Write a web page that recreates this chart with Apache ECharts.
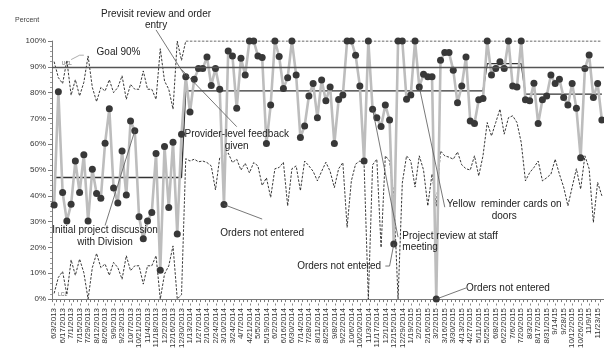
<!DOCTYPE html>
<html>
<head>
<meta charset="utf-8">
<script src="https://cdn.jsdelivr.net/npm/echarts@6/dist/echarts.min.js"></script>
<style>
  html, body { margin: 0; padding: 0; background: #fff; }
  #chart { width: 604px; height: 351px; }
</style>
</head>
<body>
<div id="chart"></div>
<script>
// Weekly chart of orders entered before the visit (percent), with control limits.
const weeks = [
  '6/3/2013','6/10/2013','6/17/2013','6/24/2013','7/1/2013','7/8/2013','7/15/2013','7/22/2013','7/29/2013','8/5/2013',
  '8/12/2013','8/19/2013','8/26/2013','9/2/2013','9/9/2013','9/16/2013','9/23/2013','9/30/2013','10/7/2013','10/14/2013',
  '10/21/2013','10/28/2013','11/4/2013','11/11/2013','11/18/2013','11/25/2013','12/2/2013','12/9/2013','12/16/2013','12/23/2013',
  '12/30/2013','1/6/2014','1/13/2014','1/20/2014','1/27/2014','2/3/2014','2/10/2014','2/17/2014','2/24/2014','3/3/2014',
  '3/10/2014','3/17/2014','3/24/2014','3/31/2014','4/7/2014','4/14/2014','4/21/2014','4/28/2014','5/5/2014','5/12/2014',
  '5/19/2014','5/26/2014','6/2/2014','6/9/2014','6/16/2014','6/23/2014','6/30/2014','7/7/2014','7/14/2014','7/21/2014',
  '7/28/2014','8/4/2014','8/11/2014','8/18/2014','8/25/2014','9/1/2014','9/8/2014','9/15/2014','9/22/2014','9/29/2014',
  '10/6/2014','10/13/2014','10/20/2014','10/27/2014','11/3/2014','11/10/2014','11/17/2014','11/24/2014','12/1/2014','12/8/2014',
  '12/15/2014','12/22/2014','12/29/2014','1/12/2015','1/19/2015','1/26/2015','2/2/2015','2/9/2015','2/16/2015','2/23/2015',
  '3/2/2015','3/9/2015','3/16/2015','3/23/2015','3/30/2015','4/6/2015','4/13/2015','4/20/2015','4/27/2015','5/4/2015',
  '5/11/2015','5/18/2015','5/25/2015','6/1/2015','6/8/2015','6/15/2015','6/22/2015','6/29/2015','7/6/2015','7/13/2015',
  '7/20/2015','7/27/2015','8/3/2015','8/10/2015','8/17/2015','8/24/2015','8/31/2015','9/7/2015','9/14/15','9/21/15',
  '9/28/15','10/5/2015','10/12/2015','10/19/2015','10/26/2015','11/2/15','11/9/15','11/16/15','11/23/15','11/30/15'
];

const percentEntered = [
  36.5, 80.3, 41.3, 30.3, 36.7, 53.5, 41.3, 55.9, 30.3, 50.3,
  40.9, 39.1, 60.4, 73.7, 43.0, 37.2, 57.4, 40.3, 69.0, 65.2,
  31.9, 23.4, 30.3, 33.5, 56.4, 11.2, 59.1, 35.5, 60.8, 25.2,
  63.9, 86.1, 72.5, 85.2, 89.3, 89.3, 93.8, 82.8, 89.3, 81.3,
  36.6, 96.1, 94.2, 73.9, 93.3, 86.8, 100, 100, 94.2, 93.6,
  60.3, 75.2, 100, 94.0, 81.6, 85.8, 100, 86.8, 62.6, 67.1,
  78.7, 83.5, 70.3, 84.9, 76.8, 82.2, 60.3, 77.3, 79.1, 100,
  100, 94.5, 82.6, 53.5, 100, 73.6, 70.3, 66.9, 75.2, 69.4,
  21.3, 100, 100, 77.4, 79.1, 100, 82.2, 87.1, 86.1, 86.1,
  0, 92.5, 95.5, 95.5, 88.7, 76.1, 82.6, 93.8, 69.0, 68.0,
  77.2, 77.7, 100, 86.8, 89.3, 92.0, 89.3, 100, 82.6, 82.2,
  100, 77.2, 76.8, 83.6, 68.0, 77.2, 78.7, 86.8, 83.5, 85.2,
  78.1, 75.2, 83.5, 73.9, 54.8, 89.3, 94.6, 78.1, 83.5, 69.4
];

const centerLine = [
  47.1, 47.1, 47.1, 47.1, 47.1, 47.1, 47.1, 47.1, 47.1, 47.1,
  47.1, 47.1, 47.1, 47.1, 47.1, 47.1, 47.1, 47.1, 47.1, 47.1,
  47.1, 47.1, 47.1, 47.1, 47.1, 47.1, 47.1, 47.1, 47.1, 47.1,
  47.1, 80.7, 80.7, 80.7, 80.7, 80.7, 80.7, 80.7, 80.7, 80.7,
  80.7, 80.7, 80.7, 80.7, 80.7, 80.7, 80.7, 80.7, 80.7, 80.7,
  80.7, 80.7, 80.7, 80.7, 80.7, 80.7, 80.7, 80.7, 80.7, 80.7,
  80.7, 80.7, 80.7, 80.7, 80.7, 80.7, 80.7, 80.7, 80.7, 80.7,
  80.7, 80.7, 80.7, 80.7, 80.7, 80.7, 80.7, 80.7, 80.7, 80.7,
  80.7, 80.7, 80.7, 80.7, 80.7, 80.7, 80.7, 80.7, 80.7, 80.7,
  80.7, 80.7, 80.7, 80.7, 80.7, 80.7, 80.7, 80.7, 80.7, 80.7,
  80.7, 80.7, 91.2, 91.2, 91.2, 91.2, 91.2, 91.2, 91.2, 91.2,
  91.2, 79.4, 79.4, 79.4, 79.4, 79.4, 79.4, 79.4, 79.4, 79.4,
  79.4, 79.4, 79.4, 79.4, 79.4, 79.4, 79.4, 79.4, 79.4, 79.4
];

const upperLimit = [
  92.0, 85.8, 83.5, 92.5, 79.0, 85.0, 78.7, 84.0, 94.2, 82.0,
  76.5, 82.0, 80.6, 85.0, 80.0, 82.0, 86.5, 77.4, 83.2, 81.3,
  81.3, 88.4, 81.3, 81.3, 77.4, 97.0, 84.5, 81.3, 73.6, 100,
  92.5, 100, 100, 100, 100, 100, 100, 100, 100, 100,
  100, 100, 100, 100, 100, 100, 100, 100, 100, 100,
  100, 100, 100, 100, 100, 100, 100, 100, 100, 100,
  100, 100, 100, 100, 100, 100, 100, 100, 100, 100,
  100, 100, 100, 100, 100, 100, 100, 100, 100, 100,
  100, 100, 100, 100, 100, 100, 100, 100, 100, 100,
  100, 100, 100, 100, 100, 100, 100, 100, 100, 100,
  100, 100, 100, 100, 100, 100, 100, 100, 100, 100,
  100, 100, 100, 100, 100, 100, 100, 100, 100, 100,
  100, 100, 100, 100, 100, 100, 100, 100, 100, 100
];

const lowerLimit = [
  2.2, 8.4, 10.7, 1.7, 15.2, 9.2, 15.5, 10.2, 0, 12.2,
  17.7, 12.2, 13.6, 9.2, 14.2, 12.2, 7.7, 16.8, 11.0, 12.9,
  12.9, 5.8, 12.9, 12.9, 16.8, 0, 9.7, 12.9, 20.6, 0,
  1.7, 54.4, 53.5, 54.2, 53.2, 53.5, 52.9, 51.6, 42.3, 54.8,
  55.5, 56.6, 52.9, 54.2, 50.0, 52.6, 48.9, 52.9, 51.6, 44.0,
  47.0, 39.4, 50.5, 51.0, 53.0, 36.1, 50.5, 51.6, 42.0, 53.5,
  51.6, 49.5, 45.8, 49.5, 53.0, 49.5, 43.2, 50.5, 52.9, 27.8,
  45.8, 52.3, 53.5, 52.3, 0, 52.0, 54.2, 20.0, 55.5, 53.5,
  40.0, 0, 45.0, 55.5, 53.5, 43.4, 55.5, 50.0, 36.1, 48.5,
  36.0, 57.4, 55.5, 55.0, 54.2, 57.0, 52.0, 50.5, 50.0, 55.5,
  47.7, 55.5, 68.4, 63.2, 68.4, 73.6, 63.9, 70.3, 71.0, 68.4,
  60.7, 45.8, 49.0, 51.0, 53.5, 45.8, 47.0, 48.4, 54.2, 48.4,
  43.4, 36.1, 43.4, 50.5, 42.6, 55.5, 50.5, 29.7, 45.2, 40.0
];

const goalPercent = 90;
const yTicks = [0, 10, 20, 30, 40, 50, 60, 70, 80, 90, 100];

// Notes placed in chart coordinates: [week index, percent]
const notes = [
  { text: 'Previsit review and order\nentry', at: [23.8, 108.3], align: 'center',
    leader: [[24.3, 104.3], [31, 86.1]] },
  { text: 'Goal 90%', at: [10.4, 95.6], align: 'left' },
  { text: 'Initial project discussion\nwith Division', at: [11.5, 24.3], align: 'center',
    leader: [[12, 28.5], [19, 65.2]] },
  { text: 'Provider-level feedback\ngiven', at: [43.2, 61.6], align: 'center',
    leader: [[43.1, 66.8], [29.8, 89]] },
  { text: 'Orders not entered', at: [49.0, 25.5], align: 'center',
    leader: [[40, 36.6], [48.9, 31.0]] },
  { text: 'Orders not entered', at: [77.4, 12.8], align: 'right',
    leader: [[77.8, 12.8], [79.4, 12.8], [80, 21.3]] },
  { text: 'Project review at staff\nmeeting', at: [82.1, 22.2], align: 'left',
    leader: [[81.4, 24], [75, 73.6]] },
  { text: 'Yellow  reminder cards on\ndoors', at: [105.6, 34.4], align: 'center',
    leader: [[91.5, 35.6], [86, 82.2]] },
  { text: 'Orders not entered', at: [97.3, 4.3], align: 'left',
    leader: [[90, 0], [96.7, 4.3]] }
];

const chart = echarts.init(document.getElementById('chart'), null, { renderer: 'canvas' });
const FONT = 'Liberation Sans, Arial, sans-serif';

chart.setOption({
  animation: false,
  backgroundColor: '#ffffff',
  grid: { left: 52, top: 41, width: 552.5, height: 259, containLabel: false },
  title: {
    text: 'Percent', left: 10, top: 12,
    textStyle: { fontSize: 7, fontWeight: 'normal', color: '#444', fontFamily: FONT }
  },
  xAxis: {
    type: 'category',
    data: weeks,
    boundaryGap: true,
    axisLine: { lineStyle: { color: '#7a7a7a', width: 1 } },
    axisTick: { show: true, interval: 0, length: 3, lineStyle: { color: '#7a7a7a' } },
    axisLabel: {
      interval: 1, rotate: 90, fontSize: 8, color: '#333', fontFamily: FONT, margin: 4,
      formatter: v => v + ' -'
    },
    splitLine: { show: false }
  },
  yAxis: {
    type: 'value', min: 0, max: 100, interval: 10,
    axisLine: { show: true, lineStyle: { color: '#7a7a7a', width: 1 } },
    axisTick: { show: true, length: 4, lineStyle: { color: '#7a7a7a' } },
    minorTick: { show: true, splitNumber: 5, length: 2, lineStyle: { color: '#9a9a9a' } },
    axisLabel: { fontSize: 8, color: '#333', fontFamily: FONT, margin: 6,
      formatter: v => yTicks.includes(v) ? v + '%' : '' },
    splitLine: { show: false }
  },
  series: [
    {
      name: 'UCL', type: 'line', data: upperLimit, symbol: 'none', z: 2,
      lineStyle: { color: '#222', width: 0.9, type: [2.5, 1.5] }
    },
    {
      name: 'LCL', type: 'line', data: lowerLimit, symbol: 'none', z: 2,
      lineStyle: { color: '#222', width: 0.9, type: [2.5, 1.5] }
    },
    {
      name: 'Center', type: 'line', data: centerLine, symbol: 'none', z: 3,
      lineStyle: { color: '#333', width: 1.3 }
    },
    {
      name: 'Goal', type: 'line', data: [], symbol: 'none', z: 3,
      markLine: {
        silent: true, symbol: 'none', label: { show: false },
        lineStyle: { color: '#555', width: 1.3, type: 'solid' },
        data: [{ yAxis: goalPercent }]
      }
    },
    {
      name: 'Percent', type: 'line', data: percentEntered, z: 4,
      symbol: 'circle', symbolSize: 7, showAllSymbol: true,
      itemStyle: { color: '#383838', borderWidth: 0 },
      lineStyle: { color: '#bdbdbd', width: 2.6 }
    }
  ]
});

// Annotation text and leader lines, positioned from chart coordinates
function px(pt) { return chart.convertToPixel({ gridIndex: 0 }, pt); }
const graphics = [];
notes.forEach(n => {
  const p = px(n.at);
  graphics.push({
    type: 'text', x: p[0], y: p[1], z: 10,
    style: {
      text: n.text, fill: '#222', font: '10px ' + FONT,
      textAlign: n.align, textVerticalAlign: 'middle', lineHeight: 11.5
    }
  });
  if (n.leader) {
    graphics.push({
      type: 'polyline', z: 9,
      shape: { points: n.leader.map(px) },
      style: { stroke: '#555', lineWidth: 0.8, fill: null }
    });
  }
});
// small limit tags
[['UCL', [2.8, 91.2]], ['LCL', [1.8, 1.8]]].forEach(([t, at]) => {
  const p = px(at);
  graphics.push({ type: 'text', x: p[0], y: p[1], z: 10,
    style: { text: t, fill: '#666', font: '5px ' + FONT, textAlign: 'center', textVerticalAlign: 'middle' } });
});
graphics.push({ type: 'polyline', z: 9, shape: { points: [[4.2, 92.8], [6.4, 94.5], [7.2, 94.5]].map(px) },
  style: { stroke: '#777', lineWidth: 0.6, fill: null } });
chart.setOption({ graphic: graphics });
</script>
</body>
</html>
